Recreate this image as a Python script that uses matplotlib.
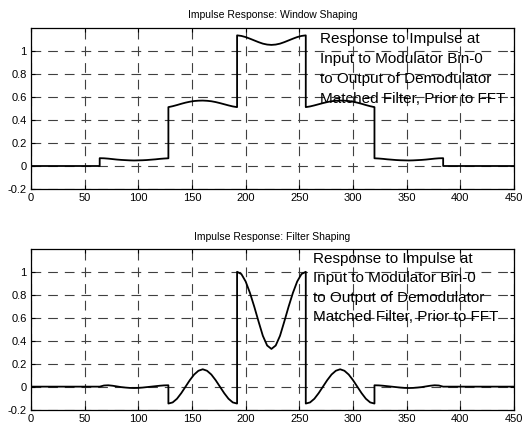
import matplotlib
matplotlib.use("Agg")
import matplotlib.pyplot as plt

plt.rcParams['font.family'] = ['Liberation Sans', 'DejaVu Sans']
plt.rcParams['lines.scale_dashes'] = False

# ---- Window-shaping impulse response (sample index, amplitude) ----
win_x = [0, 64,
         64, 68, 72, 76, 80, 84, 88, 92, 96, 100, 104, 108, 112, 116, 120, 124, 128,
         128, 132, 136, 140, 144, 148, 152, 156, 160, 164, 168, 172, 176, 180, 184, 188, 192,
         192, 196, 200, 204, 208, 212, 216, 220, 224, 228, 232, 236, 240, 244, 248, 252, 256,
         256, 260, 264, 268, 272, 276, 280, 284, 288, 292, 296, 300, 304, 308, 312, 316, 320,
         320, 324, 328, 332, 336, 340, 344, 348, 352, 356, 360, 364, 368, 372, 376, 380, 384,
         384, 450]
win_y = [0.0, 0.0,
         0.068, 0.067, 0.064, 0.060, 0.056, 0.053, 0.051, 0.049, 0.048, 0.049, 0.050, 0.052, 0.055, 0.058, 0.062, 0.065, 0.067,
         0.512, 0.520, 0.530, 0.541, 0.551, 0.559, 0.565, 0.568, 0.569, 0.567, 0.563, 0.556, 0.547, 0.537, 0.527, 0.518, 0.512,
         1.136, 1.131, 1.121, 1.107, 1.092, 1.077, 1.064, 1.056, 1.053, 1.056, 1.064, 1.077, 1.092, 1.107, 1.121, 1.131, 1.136,
         0.512, 0.518, 0.527, 0.537, 0.547, 0.556, 0.563, 0.567, 0.569, 0.568, 0.565, 0.559, 0.551, 0.541, 0.530, 0.520, 0.512,
         0.067, 0.065, 0.062, 0.058, 0.055, 0.052, 0.050, 0.049, 0.048, 0.049, 0.051, 0.053, 0.056, 0.060, 0.064, 0.067, 0.068,
         0.0, 0.0]

# ---- Filter-shaping impulse response ----
flt_x = win_x
flt_y = [0.0, 0.0,
         0.0, 0.010, 0.012, 0.008, 0.002, -0.004, -0.008, -0.011, -0.012, -0.011, -0.008, -0.004, 0.0, 0.004, 0.008, 0.011, 0.012,
         -0.148, -0.138, -0.106, -0.057, 0.0, 0.057, 0.106, 0.139, 0.152, 0.139, 0.106, 0.057, 0.0, -0.057, -0.106, -0.138, -0.148,
         1.005, 0.985, 0.920, 0.820, 0.700, 0.570, 0.445, 0.360, 0.330, 0.360, 0.445, 0.570, 0.700, 0.820, 0.920, 0.985, 1.005,
         -0.148, -0.138, -0.106, -0.057, 0.0, 0.057, 0.106, 0.139, 0.152, 0.139, 0.106, 0.057, 0.0, -0.057, -0.106, -0.138, -0.148,
         0.012, 0.011, 0.008, 0.004, 0.0, -0.004, -0.008, -0.011, -0.012, -0.011, -0.008, -0.004, 0.002, 0.008, 0.012, 0.010, 0.0,
         0.0, 0.0]

titles = ["Impulse Response: Window Shaping", "Impulse Response: Filter Shaping"]
note = ("Response to Impulse at\nInput to Modulator Bin-0\n"
        "to Output of Demodulator\nMatched Filter, Prior to FFT")
x_ticks = [0, 50, 100, 150, 200, 250, 300, 350, 400, 450]
y_ticks = [-0.2, 0, 0.2, 0.4, 0.6, 0.8, 1]
y_tick_labels = ["-0.2", "0", "0.2", "0.4", "0.6", "0.8", "1"]

fig = plt.figure(figsize=(5.23, 4.23), dpi=100)
W, H = 523.0, 423.0
ax_rects = [
    [31 / W, 1 - 189 / H, 483 / W, 161 / H],
    [31 / W, 1 - 409.5 / H, 483 / W, 160 / H],
]
note_pos = [(0.598, 0.975), (0.584, 0.985)]
note_spacing = [1.55, 1.5]

for rect, (xs, ys), title, npos, nsp in zip(ax_rects, [(win_x, win_y), (flt_x, flt_y)],
                                            titles, note_pos, note_spacing):
    ax = fig.add_axes(rect)
    ax.plot(xs, ys, color='black', lw=1.3, zorder=3)
    ax.set_xlim(0, 450)
    ax.set_ylim(-0.2, 1.2)
    ax.set_xticks(x_ticks)
    ax.set_yticks(y_ticks)
    ax.set_yticklabels(y_tick_labels)
    ax.grid(True, color='0.25', linestyle=(0, (7, 5)), lw=0.8)
    ax.tick_params(direction='in', length=3, width=0.8, labelsize=8,
                   top=True, right=True, pad=3, colors='black')
    for sp in ax.spines.values():
        sp.set_linewidth(0.9)
        sp.set_color('black')
    ax.set_title(title, fontsize=7.5, pad=7)
    ax.text(npos[0], npos[1], note, transform=ax.transAxes, ha='left', va='top',
            fontsize=11, linespacing=nsp, color='black', zorder=4)

fig.savefig("out.png", dpi=100)
